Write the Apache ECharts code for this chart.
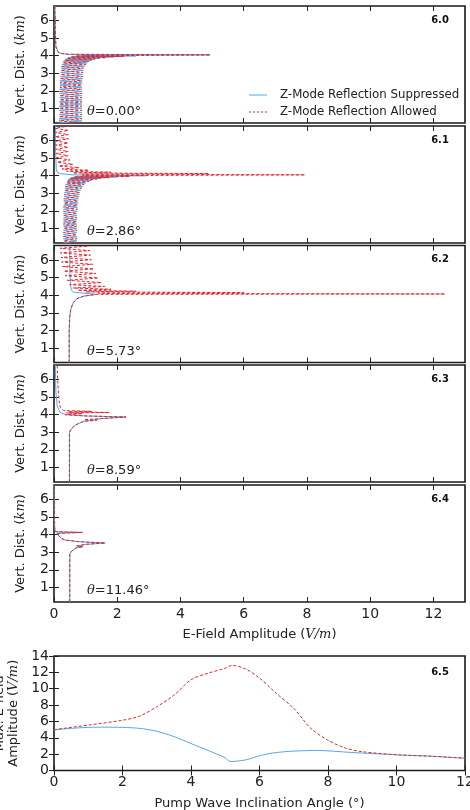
<!DOCTYPE html>
<html>
<head>
<meta charset="utf-8">
<script src="https://cdn.jsdelivr.net/npm/echarts@6/dist/echarts.min.js"></script>
<style>
html, body { margin: 0; padding: 0; background: #fff; }
#chart { width: 470px; height: 810px; }
</style>
</head>
<body>
<div id="chart"></div>
<script>
const FONT = 'DejaVu Sans'
const BLUE = '#55a8e6'
const RED = '#e5242c'
const SUPP = 'Z-Mode Reflection Suppressed'
const ALLOW = 'Z-Mode Reflection Allowed'

// tick labels
const heightTicks = [1, 2, 3, 4, 5, 6]
const ampTicks = [0, 2, 4, 6, 8, 10, 12]
const panelTags = ['6.0', '6.1', '6.2', '6.3', '6.4']
const panelAngles = ['0.00', '2.86', '5.73', '8.59', '11.46']

// 6.0  theta = 0.00
const ht60 = [0.17, 0.29, 0.41, 0.53, 0.65, 0.77, 0.89, 1.01, 1.13, 1.25, 1.37, 1.49, 1.61, 1.73, 1.85, 1.97, 2.09, 2.21, 2.33, 2.45, 2.57, 2.69, 2.81, 2.93, 3.05, 3.17, 3.29,
  3.40, 3.50, 3.59, 3.67, 3.74, 3.80, 3.85, 3.89, 3.93, 3.96, 3.99, 4.02, 4.05,
  4.08, 4.12, 4.18, 4.28, 4.5, 5.0, 5.5, 6.0, 6.5, 6.83]
const amp60Supp = [0.16, 0.88, 0.16, 0.88, 0.16, 0.88, 0.17, 0.88, 0.17, 0.88, 0.17, 0.88, 0.18, 0.88, 0.18, 0.88, 0.18, 0.88, 0.19, 0.89, 0.19, 0.9, 0.2, 0.91, 0.21, 0.93, 0.23,
  0.97, 0.26, 1.05, 0.3, 1.2, 0.36, 1.45, 0.45, 1.9, 0.6, 2.6, 0.9, 4.94,
  0.45, 0.25, 0.14, 0.09, 0.06, 0.05, 0.04, 0.04, 0.03, 0.03]
const amp60Allow = [0.88, 0.16, 0.88, 0.16, 0.88, 0.17, 0.88, 0.17, 0.88, 0.17, 0.88, 0.18, 0.88, 0.18, 0.88, 0.18, 0.88, 0.19, 0.88, 0.19, 0.89, 0.2, 0.9, 0.21, 0.91, 0.22, 0.93,
  0.24, 1.0, 0.28, 1.1, 0.33, 1.3, 0.4, 1.65, 0.52, 2.2, 0.7, 2.9, 4.94,
  0.45, 0.25, 0.14, 0.09, 0.06, 0.05, 0.04, 0.04, 0.03, 0.03]

// 6.1  theta = 2.86
const ht61Band = [0.17, 0.29, 0.41, 0.53, 0.65, 0.77, 0.89, 1.01, 1.13, 1.25, 1.37, 1.49, 1.61, 1.73, 1.85, 1.97, 2.09, 2.21, 2.33, 2.45, 2.57, 2.69, 2.81, 2.93, 3.05, 3.17, 3.29,
  3.40, 3.50, 3.59, 3.67, 3.74, 3.80, 3.85, 3.89, 3.93, 3.96]
const amp61BandSupp = [0.3, 0.72, 0.3, 0.72, 0.3, 0.72, 0.3, 0.72, 0.3, 0.72, 0.3, 0.72, 0.3, 0.72, 0.3, 0.73, 0.3, 0.74, 0.31, 0.75, 0.31, 0.77, 0.32, 0.8, 0.33, 0.84, 0.35,
  0.9, 0.37, 1.0, 0.41, 1.2, 0.47, 1.5, 0.55, 2.0, 0.7]
const amp61BandAllow = [0.72, 0.3, 0.72, 0.3, 0.72, 0.3, 0.72, 0.3, 0.72, 0.3, 0.72, 0.3, 0.72, 0.3, 0.73, 0.3, 0.74, 0.3, 0.75, 0.31, 0.76, 0.31, 0.78, 0.32, 0.82, 0.33, 0.87,
  0.36, 0.95, 0.39, 1.1, 0.44, 1.35, 0.5, 1.75, 0.62, 2.4]
const ht61Supp = [4.0, 4.05, 4.12, 4.2, 4.4, 5.0, 5.5, 6.0, 6.5, 6.83]
const amp61Supp = [2.9, 0.6, 0.2, 0.1, 0.07, 0.06, 0.05, 0.05, 0.05, 0.05]
const ht61Allow = [4.0, 4.05, 4.09, 4.12, 4.16, 4.2, 4.25, 4.31, 4.38, 4.46, 4.55, 4.65, 4.77, 4.9, 5.02, 5.14, 5.26, 5.38, 5.5, 5.62,
  5.74, 5.86, 5.98, 6.1, 6.22, 6.34, 6.46, 6.58, 6.7, 6.83]
const amp61Allow = [0.9, 7.94, 0.9, 4.9, 0.6, 1.8, 0.4, 1.1, 0.25, 0.8, 0.15, 0.6, 0.1, 0.5, 0.07, 0.45, 0.06, 0.45, 0.05, 0.45,
  0.05, 0.45, 0.04, 0.46, 0.04, 0.46, 0.04, 0.46, 0.04, 0.46]

// 6.2  theta = 5.73
const ht62Supp = [0.17, 2.0, 2.8, 3.2, 3.55, 3.8, 3.95, 4.05, 4.12, 4.18, 4.28, 4.6, 5.5, 6.83]
const amp62Supp = [0.48, 0.48, 0.5, 0.53, 0.6, 0.72, 0.95, 1.35, 0.9, 0.62, 0.55, 0.52, 0.5, 0.5]
const ht62Allow = [0.17, 2.0, 2.8, 3.2, 3.55, 3.8, 3.95, 4.05, 4.07, 4.11, 4.15, 4.19, 4.23, 4.28, 4.34, 4.41, 4.5, 4.6,
  4.72, 4.85, 4.98, 5.11, 5.24, 5.37, 5.5, 5.63, 5.76, 5.89, 6.02, 6.15, 6.28, 6.41, 6.54, 6.67, 6.8]
const amp62Allow = [0.48, 0.48, 0.5, 0.53, 0.6, 0.72, 0.95, 1.35, 12.37, 1.4, 6.0, 1.0, 2.6, 0.75, 1.8, 0.6, 1.6, 0.5,
  1.5, 0.42, 1.4, 0.36, 1.32, 0.31, 1.26, 0.27, 1.22, 0.24, 1.18, 0.22, 1.15, 0.2, 1.13, 0.19, 1.12]

// 6.3  theta = 8.59
const ht63Supp = [0.17, 3.0, 3.15, 3.4, 3.62, 3.78, 3.87, 3.93, 4.0, 4.1, 4.2, 4.5, 5.3, 6.83]
const amp63Supp = [0.49, 0.49, 0.53, 0.66, 0.93, 1.5, 2.28, 1.0, 0.4, 0.2, 0.14, 0.1, 0.06, 0.04]
const ht63Allow = [0.17, 3.0, 3.15, 3.4, 3.62, 3.68, 3.72, 3.78, 3.87, 3.93, 4.0, 4.06, 4.1, 4.13, 4.16, 4.19, 4.24, 4.4, 4.8, 5.5, 6.2, 6.83]
const amp63Allow = [0.49, 0.49, 0.53, 0.66, 0.93, 1.35, 0.95, 1.5, 2.28, 1.0, 0.35, 0.9, 0.4, 1.75, 0.45, 1.2, 0.3, 0.2, 0.16, 0.13, 0.11, 0.1]

// 6.4  theta = 11.46 (both cases overlap)
const ht64 = [0.17, 2.9, 3.07, 3.25, 3.32, 3.36, 3.45, 3.53, 3.6, 3.7, 3.78, 3.95, 4.08, 4.13, 4.17, 4.4, 5.5, 6.83]
const amp64 = [0.5, 0.5, 0.56, 0.7, 0.92, 0.72, 1.0, 1.62, 0.8, 0.35, 0.24, 0.15, 0.1, 0.9, 0.05, 0.02, 0.01, 0.0]

// 6.5  max amplitude vs inclination angle
const angleSupp = [0, 0.5, 1, 1.5, 2, 2.5, 3, 3.5, 4, 4.5, 5, 5.15, 5.6, 6, 6.4, 7, 7.7, 8.7, 10.1, 11, 12]
const maxSupp = [4.95, 5.15, 5.27, 5.3, 5.27, 5.15, 4.8, 4.15, 3.3, 2.45, 1.55, 1.1, 1.3, 1.8, 2.15, 2.37, 2.45, 2.2, 1.9, 1.75, 1.5]
const angleAllow = [0, 1, 2, 2.5, 3, 3.5, 4, 4.5, 5, 5.2, 5.6, 6, 6.5, 7, 7.5, 8, 8.5, 9, 10.1, 11, 12]
const maxAllow = [5.0, 5.55, 6.15, 6.65, 7.8, 9.2, 11.1, 11.9, 12.5, 12.85, 12.4, 11.3, 9.4, 7.6, 5.15, 3.7, 2.75, 2.3, 1.9, 1.75, 1.5]

const zip = (a, b) => a.map((v, i) => [v, b[i]])

const panels = [
  { supp: zip(amp60Supp, ht60), allow: zip(amp60Allow, ht60) },
  { supp: zip(amp61BandSupp.concat(amp61Supp), ht61Band.concat(ht61Supp)),
    allow: zip(amp61BandAllow.concat(amp61Allow), ht61Band.concat(ht61Allow)) },
  { supp: zip(amp62Supp, ht62Supp), allow: zip(amp62Allow, ht62Allow) },
  { supp: zip(amp63Supp, ht63Supp), allow: zip(amp63Allow, ht63Allow) },
  { supp: zip(amp64, ht64), allow: zip(amp64, ht64) }
]

const tops = [6, 126, 245.5, 365, 485]
const tick = { show: true, inside: true, length: 5, lineStyle: { color: '#222', width: 1 } }
const labelStyle = { fontFamily: FONT, fontSize: 14, color: '#222', margin: 5 }
const nameRich = {
  a: { fontFamily: FONT, fontSize: 13, color: '#222' },
  b: { fontFamily: 'DejaVu Serif', fontStyle: 'italic', fontSize: 13, color: '#222' }
}

const grids = []
const xAxes = []
const yAxes = []
const series = []
const graphics = []

function lineSeries(name, color, dashed, xi, yi, data) {
  return {
    type: 'line', name, xAxisIndex: xi, yAxisIndex: yi, data,
    symbol: 'none', silent: true, clip: true,
    lineStyle: { color, width: 1, type: dashed ? [3, 2] : 'solid' },
    itemStyle: { color }
  }
}

function gridBox(top, height) {
  return {
    left: 54, top, width: 411, height, containLabel: false, outerBoundsMode: 'none',
    show: true, borderColor: '#1a1a1a', borderWidth: 1.6
  }
}

panels.forEach((p, i) => {
  const last = i === panels.length - 1
  grids.push(gridBox(tops[i], 117))
  xAxes.push({
    gridIndex: i, type: 'value', min: 0, max: 13, position: 'bottom',
    axisLine: { show: false }, splitLine: { show: false },
    axisTick: { ...tick, customValues: ampTicks },
    axisLabel: { ...labelStyle, show: last, customValues: ampTicks },
    name: last ? '{a|E-Field Amplitude (}{b|V/m}{a|)}' : '',
    nameLocation: 'middle', nameGap: 26, nameTextStyle: { rich: nameRich }
  })
  xAxes.push({
    gridIndex: i, type: 'value', min: 0, max: 13, position: 'top',
    axisLine: { show: false }, splitLine: { show: false },
    axisTick: { ...tick, customValues: ampTicks }, axisLabel: { show: false }
  })
  yAxes.push({
    gridIndex: i, type: 'value', min: 0.17, max: 6.83, position: 'left',
    axisLine: { show: false }, splitLine: { show: false },
    axisTick: { ...tick, customValues: heightTicks },
    axisLabel: { ...labelStyle, customValues: heightTicks },
    name: '{a|Vert. Dist. (}{b|km}{a|)}', nameLocation: 'middle', nameGap: 27,
    nameTextStyle: { rich: nameRich }
  })
  yAxes.push({
    gridIndex: i, type: 'value', min: 0.17, max: 6.83, position: 'right',
    axisLine: { show: false }, splitLine: { show: false },
    axisTick: { ...tick, customValues: heightTicks }, axisLabel: { show: false }
  })
  series.push(lineSeries(SUPP, BLUE, false, 2 * i, 2 * i, p.supp))
  series.push(lineSeries(ALLOW, RED, true, 2 * i, 2 * i, p.allow))

  graphics.push({
    type: 'text', x: 440, y: tops[i] + 14,
    style: { text: panelTags[i], font: 'bold 10px "DejaVu Sans"', fill: '#111', align: 'center', verticalAlign: 'middle', textAlign: 'center', textVerticalAlign: 'middle' }
  })
  graphics.push({
    type: 'text', x: 87, y: tops[i] + 106,
    style: {
      text: '{t|θ}{n|=' + panelAngles[i] + '°}',
      rich: {
        t: { fontFamily: 'DejaVu Serif', fontStyle: 'italic', fontSize: 13, fill: '#222' },
        n: { fontFamily: FONT, fontSize: 13, fill: '#222' }
      },
      fill: '#222', verticalAlign: 'middle', textVerticalAlign: 'middle'
    }
  })
})

// bottom panel 6.5
grids.push(gridBox(656, 114.5))
xAxes.push({
  gridIndex: 5, type: 'value', min: 0, max: 12, interval: 2, position: 'bottom',
  axisLine: { show: false }, splitLine: { show: false }, axisTick: tick,
  axisLabel: labelStyle,
  name: 'Pump Wave Inclination Angle (°)', nameLocation: 'middle', nameGap: 27,
  nameTextStyle: { fontFamily: FONT, fontSize: 13, color: '#222' }
})
xAxes.push({
  gridIndex: 5, type: 'value', min: 0, max: 12, interval: 2, position: 'top',
  axisLine: { show: false }, splitLine: { show: false }, axisTick: tick, axisLabel: { show: false }
})
yAxes.push({
  gridIndex: 5, type: 'value', min: 0, max: 14, interval: 2, position: 'left',
  axisLine: { show: false }, splitLine: { show: false }, axisTick: tick,
  axisLabel: labelStyle,
  name: '{a|Max. E-field}\n{a|Amplitude (}{b|V/m}{a|)}', nameLocation: 'middle', nameGap: 26,
  nameTextStyle: { rich: nameRich, lineHeight: 14 }
})
yAxes.push({
  gridIndex: 5, type: 'value', min: 0, max: 14, interval: 2, position: 'right',
  axisLine: { show: false }, splitLine: { show: false }, axisTick: tick, axisLabel: { show: false }
})
series.push({ ...lineSeries(SUPP, BLUE, false, 10, 10, zip(angleSupp, maxSupp)), smooth: 0.3 })
series.push({ ...lineSeries(ALLOW, RED, true, 10, 10, zip(angleAllow, maxAllow)), smooth: 0.3 })
graphics.push({
  type: 'text', x: 440, y: 672,
  style: { text: '6.5', font: 'bold 10px "DejaVu Sans"', fill: '#111', align: 'center', verticalAlign: 'middle', textAlign: 'center', textVerticalAlign: 'middle' }
})

// legend drawn in panel 6.0
const legendItems = [[SUPP, BLUE, null], [ALLOW, RED, [2, 2]]]
legendItems.forEach(([label, color, dash], k) => {
  const y = 95 + k * 17
  graphics.push({
    type: 'line', shape: { x1: 249, y1: y, x2: 267, y2: y },
    style: { stroke: color, lineWidth: 1, lineDash: dash }
  })
  graphics.push({
    type: 'text', x: 280, y,
    style: { text: label, font: '11.8px "DejaVu Sans"', fill: '#222', verticalAlign: 'middle', textVerticalAlign: 'middle' }
  })
})

const chart = echarts.init(document.getElementById('chart'), null, { renderer: 'canvas', width: 470, height: 810 })
chart.setOption({
  animation: false,
  backgroundColor: '#fff',
  textStyle: { fontFamily: FONT },
  grid: grids,
  xAxis: xAxes,
  yAxis: yAxes,
  series,
  graphic: graphics
})
</script>
</body>
</html>
